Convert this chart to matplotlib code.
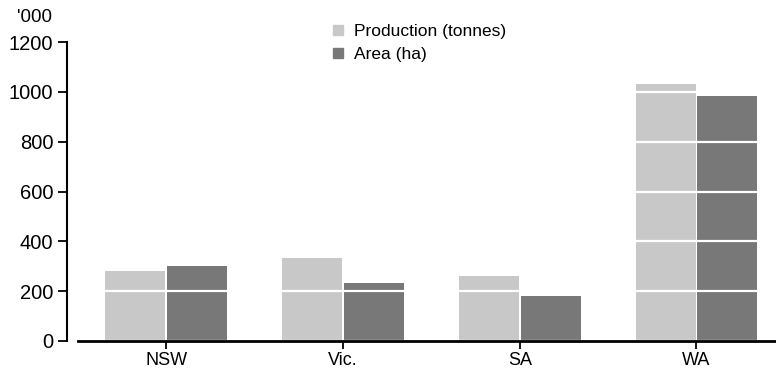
import matplotlib
matplotlib.use("Agg")
import matplotlib.pyplot as plt
import numpy as np
from matplotlib.lines import Line2D

plt.rcParams['font.family'] = ['Liberation Sans', 'DejaVu Sans']

categories = ['NSW', 'Vic.', 'SA', 'WA']
production = [281, 333, 261, 1032]
area = [301, 233, 181, 984]
series_names = ['Production (tonnes)', 'Area (ha)']
colors = ['#c8c8c8', '#787878']
yticks = [0, 200, 400, 600, 800, 1000, 1200]

W, H = 776, 369
fig = plt.figure(figsize=(W / 100, H / 100), dpi=100)
ax = fig.add_axes([78 / W, (H - 341) / H, (776 - 78) / W, (341 - 42) / H])

x = np.arange(len(categories))
bw = 0.34
off = 0.175
ax.bar(x - off, production, bw, color=colors[0], zorder=1)
ax.bar(x + off, area, bw, color=colors[1], zorder=1)

ax.set_xlim(-0.5, 3.45)
ax.set_ylim(0, 1200)
ax.set_yticks(yticks)
ax.set_xticks(x)
ax.set_xticklabels(categories)

ax.set_axisbelow(False)
ax.yaxis.grid(True, color='white', linewidth=1.6)
ax.xaxis.grid(False)

for s in ['top', 'right']:
    ax.spines[s].set_visible(False)
ax.spines['left'].set_position(('outward', 7.9))
ax.spines['left'].set_linewidth(1.5)
ax.spines['bottom'].set_linewidth(2)
ax.spines['left'].set_zorder(3)
ax.spines['bottom'].set_zorder(3)

ax.tick_params(axis='y', direction='out', length=6.5, width=1.3, labelsize=14.5, pad=3.5)
ax.tick_params(axis='x', direction='out', length=6, width=1.3, labelsize=13, pad=2)

fig.text(17 / W, 1 - 18 / H, "'000", fontsize=13.5, va='center', ha='left')

handles = [Line2D([], [], marker='s', linestyle='none', markersize=7,
                  markerfacecolor=c, markeredgecolor=c) for c in colors]
fig.legend(handles, series_names, loc='upper left',
           bbox_to_anchor=(331 / W, 1 - 24 / H), frameon=False,
           fontsize=12.5, handlelength=0.8, handletextpad=0.5,
           labelspacing=0.45, borderpad=0, borderaxespad=0)

fig.savefig('out.png', dpi=100)
